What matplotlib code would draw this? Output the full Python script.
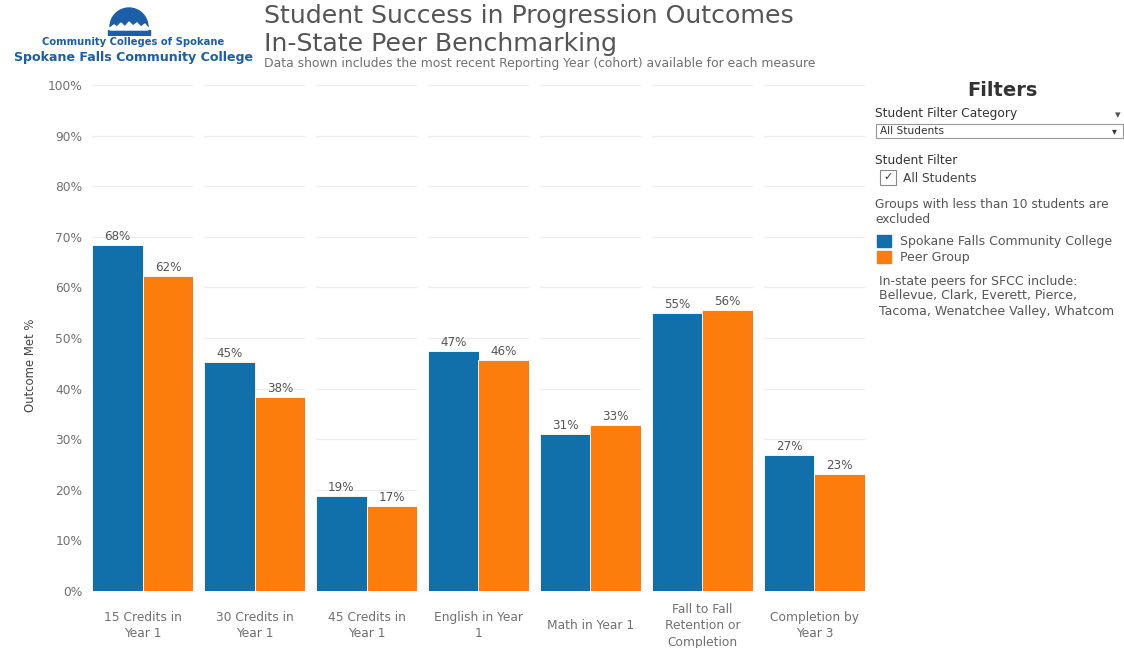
import numpy as np
import matplotlib.pyplot as plt
from matplotlib.patches import Wedge, Rectangle, Polygon

plt.rcParams["font.family"] = ["DejaVu Sans"]

categories = ["15 Credits in\nYear 1", "30 Credits in\nYear 1", "45 Credits in\nYear 1",
              "English in Year\n1", "Math in Year 1", "Fall to Fall\nRetention or\nCompletion",
              "Completion by\nYear 3"]
sfcc = [68.4, 45.2, 18.8, 47.4, 31.1, 54.9, 26.8]
peer = [62.2, 38.3, 16.8, 45.6, 32.8, 55.6, 23.2]
yticks = [0, 10, 20, 30, 40, 50, 60, 70, 80, 90, 100]

BLUE, ORANGE = "#1170aa", "#fc7d0b"
TXT, LOGO = "#707070", "#1d5ea8"
W, H = 1124, 648

fig = plt.figure(figsize=(W / 100, H / 100), dpi=100)


def fx(px):
    return px / W


def fy(py):
    return 1 - py / H


gs = fig.add_gridspec(1, 7, left=fx(92), right=fx(865), bottom=fy(591), top=fy(80),
                      wspace=0.106)
axes = [fig.add_subplot(gs[0, i]) for i in range(7)]
for i, ax in enumerate(axes):
    vals = [sfcc[i], peer[i]]
    ax.bar([0, 1], vals, width=1.0, color=[BLUE, ORANGE], edgecolor="white", lw=0.6,
           zorder=2)
    for x, v in zip([0, 1], vals):
        ax.text(x, v + 0.4, f"{round(v):d}%", ha="center", va="bottom", fontsize=8.6,
                color="#555555")
    ax.set_xlim(-0.5, 1.5)
    ax.set_ylim(0, 101)
    ax.set_yticks(yticks)
    ax.grid(axis="y", color="#ececec", lw=0.9, zorder=0)
    ax.set_xticks([])
    for s in ax.spines.values():
        s.set_visible(False)
    ax.tick_params(axis="y", length=0, labelsize=8.8, labelcolor=TXT, pad=7)
    if i == 0:
        ax.set_yticklabels([f"{t}%" for t in yticks])
    else:
        ax.set_yticklabels([])
    ax.text(0.5, -0.068, categories[i], transform=ax.transAxes, ha="center",
            va="center", fontsize=8.8, color=TXT, linespacing=1.35)

fig.text(fx(30), fy(365), "Outcome Met %", rotation=90, ha="center", va="center",
         fontsize=8.4, color="#444444", family=["Liberation Sans Narrow", "DejaVu Sans"])

# titles
fig.text(fx(264), fy(16), "Student Success in Progression Outcomes", ha="left",
         va="center", fontsize=18.2, color="#555555")
fig.text(fx(264), fy(44), "In-State Peer Benchmarking", ha="left", va="center",
         fontsize=18.2, color="#555555")
fig.text(fx(264), fy(63), "Data shown includes the most recent Reporting Year (cohort) "
         "available for each measure", ha="left", va="center", fontsize=8.9, color=TXT)

# logo
lax = fig.add_axes([fx(100), fy(36), fx(58), fy(6) - fy(36)])
lax.set_xlim(0, 58); lax.set_ylim(0, 30); lax.axis("off")
lax.add_patch(Wedge((29, 9), 19, 0, 180, color=LOGO))
lax.add_patch(Rectangle((8, 0), 42, 6, color=LOGO))
zig = np.array([[10, 8], [14, 11], [17, 9], [21, 13], [25, 9], [29, 14], [33, 10],
                [37, 13], [41, 9], [45, 12], [48, 8], [48, 6], [10, 6]])
lax.add_patch(Polygon(zig, closed=True, color="white"))
fig.text(fx(133), fy(42), "Community Colleges of Spokane", ha="center", va="center",
         fontsize=7.2, color=LOGO, weight="bold")
fig.text(fx(133), fy(57), "Spokane Falls Community College", ha="center",
         va="center", fontsize=9.1, color=LOGO, weight="bold")

# filter panel
fig.text(fx(1002), fy(91), "Filters", ha="center", va="center", fontsize=14,
         color="#333333", weight="bold")
fig.text(fx(875), fy(114), "Student Filter Category", ha="left", va="center",
         fontsize=8.8, color="#333333")
fig.text(fx(1118), fy(115), "\u25BE", ha="center", va="center", fontsize=8,
         color="#555555")
fig.patches.append(Rectangle((fx(876), fy(138)), fx(1123) - fx(876), fy(124) - fy(138),
                             transform=fig.transFigure, fill=False, ec="#999999",
                             lw=0.8))
fig.text(fx(880), fy(131), "All Students", ha="left", va="center", fontsize=7.6,
         color="#333333")
fig.text(fx(1114), fy(131), "\u25BE", ha="center", va="center", fontsize=7,
         color="#333333")
fig.text(fx(875), fy(160), "Student Filter", ha="left", va="center", fontsize=8.8,
         color="#333333")
fig.patches.append(Rectangle((fx(880), fy(185)), fx(896) - fx(880), fy(170) - fy(185),
                             transform=fig.transFigure, fill=False, ec="#888888",
                             lw=0.8))
fig.text(fx(888), fy(177), "\u2713", ha="center", va="center", fontsize=8,
         color="#333333")
fig.text(fx(903), fy(178), "All Students", ha="left", va="center", fontsize=8.8,
         color="#444444")
fig.text(fx(875), fy(212), "Groups with less than 10 students are\nexcluded",
         ha="left", va="center", fontsize=8.8, color="#555555", linespacing=1.2)
for py, col, lab in [(241, BLUE, "Spokane Falls Community College"),
                     (257, ORANGE, "Peer Group")]:
    fig.patches.append(Rectangle((fx(877), fy(py + 6)), fx(891) - fx(877),
                                 fy(py - 6) - fy(py + 6), transform=fig.transFigure,
                                 color=col))
    fig.text(fx(900), fy(py), lab, ha="left", va="center", fontsize=9, color="#555555")
fig.text(fx(879), fy(296), "In-state peers for SFCC include:\nBellevue, Clark, Everett, "
         "Pierce,\nTacoma, Wenatchee Valley, Whatcom", ha="left", va="center",
         fontsize=9, color="#555555", linespacing=1.2)

fig.savefig("out.png", dpi=100)
